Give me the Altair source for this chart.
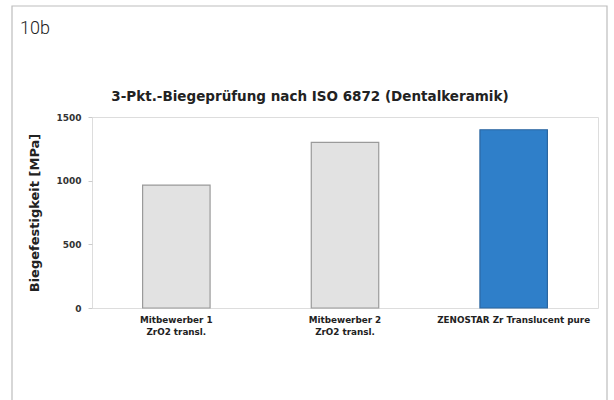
import altair as alt
import pandas as pd

categories = ["Mitbewerber 1\nZrO2 transl.", "Mitbewerber 2\nZrO2 transl.", "ZENOSTAR Zr Translucent pure"]
values = [965, 1300, 1400]
fills = ["#e2e2e2", "#e2e2e2", "#2f7fc9"]
strokes = ["#9a9a9a", "#9a9a9a", "#2b66a0"]
title_text = "3-Pkt.-Biegeprüfung nach ISO 6872 (Dentalkeramik)"
tag_text = "10b"

df = pd.DataFrame({"cat": categories, "val": values, "fill": fills, "stroke": strokes})

W, H = 506, 191
FONT = "DejaVu Sans"

bars = alt.Chart(df).mark_bar(strokeWidth=1.2).encode(
    x=alt.X("cat:N", sort=categories, title=None,
            scale=alt.Scale(paddingInner=0.6, paddingOuter=0.3),
            axis=alt.Axis(labelAngle=0, labelExpr="split(datum.label, '\\n')",
                          labelFontSize=8.8, labelFontWeight="bold", labelColor="#222",
                          labelFont=FONT, labelLineHeight=12,
                          ticks=False, domain=False, labelPadding=7)),
    y=alt.Y("val:Q", title="Biegefestigkeit [MPa]",
            scale=alt.Scale(domain=[0, 1500], nice=False),
            axis=alt.Axis(values=[0, 500, 1000, 1500], format="d", grid=False, domain=False,
                          tickSize=4, tickColor="#cccccc", labelPadding=7,
                          labelFontSize=9, labelFontWeight="bold", labelColor="#333",
                          labelFont=FONT,
                          titleFontSize=13, titleFontWeight="bold", titleColor="#222",
                          titleFont=FONT, titlePadding=14)),
    fill=alt.Fill("fill:N", scale=None),
    stroke=alt.Stroke("stroke:N", scale=None),
)

tag = alt.Chart(pd.DataFrame({"t": [tag_text]})).mark_text(
    align="left", baseline="alphabetic", fontSize=18,
    font="Roboto", fontWeight=300, color="#222").encode(
    x=alt.value(-72), y=alt.value(-83), text="t:N")

title = alt.Chart(pd.DataFrame({"t": [title_text]})).mark_text(
    align="center", baseline="alphabetic", fontSize=13.5,
    font=FONT, fontWeight="bold", color="#222").encode(
    x=alt.value(218), y=alt.value(-16), text="t:N")

frame = alt.Chart(pd.DataFrame({"k": [0]})).mark_rect(
    fill=None, stroke="#bdbdbd", strokeWidth=1.2).encode(
    x=alt.value(-80), x2=alt.value(515), y=alt.value(-111), y2=alt.value(300))

chart = alt.layer(frame, bars, tag, title).properties(
    width=W, height=H,
    autosize=alt.AutoSizeParams(type="none"),
    padding={"left": 92, "top": 117, "right": 16, "bottom": 92},
).configure_view(stroke="#b0b0b0", strokeWidth=1.2).configure(background="white")

chart.save("out.html", embed_options={"renderer": "svg", "actions": False})
